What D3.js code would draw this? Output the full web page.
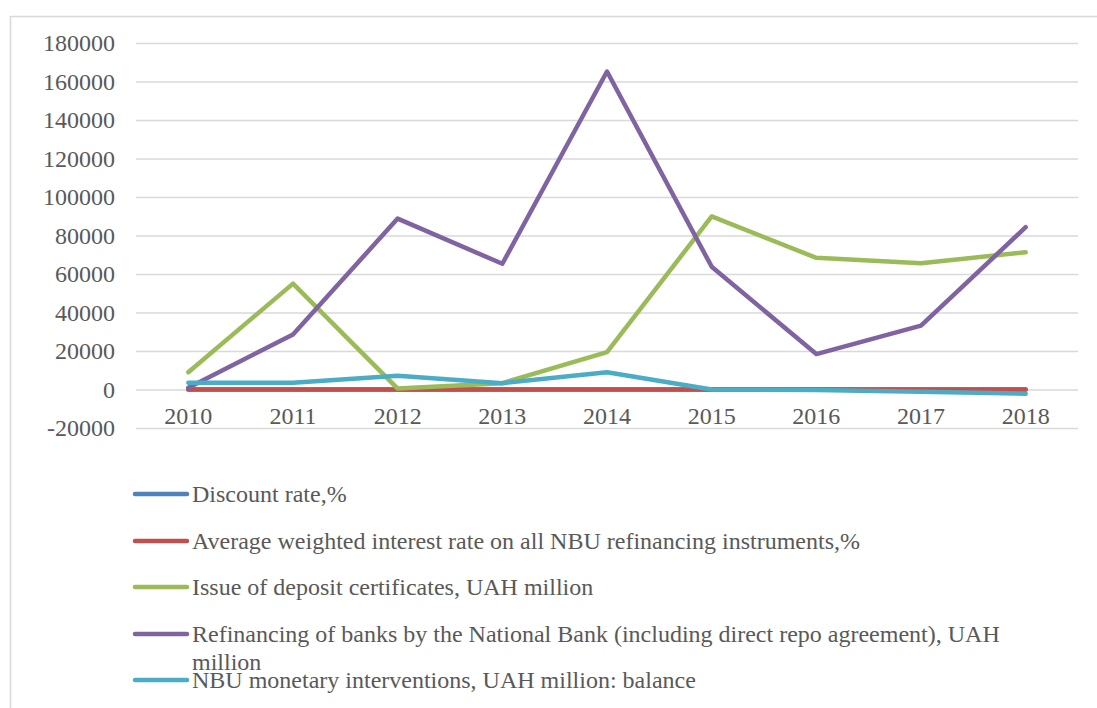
<!DOCTYPE html>
<html>
<head>
<meta charset="utf-8">
<script src="https://cdn.jsdelivr.net/npm/d3@7"></script>
<style>
  body { margin: 0; background: #fff; }
  svg { display: block; }
  text { font-family: "Liberation Serif", "Times New Roman", serif; fill: #595959; }
</style>
</head>
<body>
<div id="chart-area"></div>
<script>
// data
var years = ["2010", "2011", "2012", "2013", "2014", "2015", "2016", "2017", "2018"];
var discountRate = [7.75, 7.75, 7.5, 6.5, 14, 22, 14, 14.5, 18];
var avgWeightedRate = [9.6, 8.1, 8.3, 7.2, 14.9, 27.1, 16.4, 14.4, 18.3];
var depositCertificates = [9000, 55000, 500, 3300, 19400, 89900, 68400, 65600, 71300];
var refinancing = [900, 28600, 88800, 65300, 165200, 63800, 18400, 33200, 84300];
var interventions = [3500, 3500, 7200, 3300, 9000, 0, -300, -1200, -2200];
var yTicks = [-20000, 0, 20000, 40000, 60000, 80000, 100000, 120000, 140000, 160000, 180000];

var seriesNames = [
    "Discount rate,%",
    "Average weighted interest rate on all NBU refinancing instruments,%",
    "Issue of deposit certificates, UAH million",
    "Refinancing of banks by the National Bank (including direct repo agreement), UAH million",
    "NBU monetary interventions, UAH million: balance"
];
var seriesColors = ["#4f81bd", "#c0504d", "#9bbb59", "#8064a2", "#4bacc6"];
var seriesValues = [discountRate, avgWeightedRate, depositCertificates, refinancing, interventions];

var W = 1097, H = 708;
var plot = { left: 136, right: 1078, top: 43, bottom: 428 };
var fontSize = "24px";

var svg = d3.select("#chart-area").append("svg")
    .attr("width", W)
    .attr("height", H);

// outer chart border (top + left visible)
svg.append("path")
    .attr("d", "M10.5," + H + " L10.5,16.5 L" + W + ",16.5")
    .attr("fill", "none")
    .attr("stroke", "#d9d9d9")
    .attr("stroke-width", 1.5);

var xScale = d3.scaleBand()
    .domain(years)
    .range([plot.left, plot.right]);

var yScale = d3.scaleLinear()
    .domain([-20000, 180000])
    .range([plot.bottom, plot.top]);

// gridlines + y labels
var yAxis = svg.append("g")
    .attr("transform", "translate(" + plot.left + ",0)")
    .call(d3.axisLeft(yScale)
        .tickValues(yTicks)
        .tickSize(-(plot.right - plot.left))
        .tickPadding(21)
        .tickFormat(function (d) { return String(d); }));
yAxis.select(".domain").remove();
yAxis.selectAll(".tick line")
    .attr("stroke", "#d9d9d9")
    .attr("stroke-width", 1.5);
yAxis.selectAll(".tick text")
    .style("font-size", fontSize)
    .style("font-family", "'Liberation Serif', serif")
    .attr("fill", "#595959");

// category labels, sitting between 0 and -20000
svg.append("g").selectAll("text")
    .data(years)
    .enter().append("text")
    .attr("x", function (d) { return xScale(d) + xScale.bandwidth() / 2; })
    .attr("y", yScale(-10000) + 15)
    .attr("text-anchor", "middle")
    .style("font-size", fontSize)
    .text(function (d) { return d; });

var line = d3.line()
    .x(function (d, i) { return xScale(years[i]) + xScale.bandwidth() / 2; })
    .y(function (d) { return yScale(d); });

seriesValues.forEach(function (vals, i) {
    svg.append("path")
        .datum(vals)
        .attr("fill", "none")
        .attr("stroke", seriesColors[i])
        .attr("stroke-width", 4.5)
        .attr("stroke-linejoin", "round")
        .attr("stroke-linecap", "round")
        .attr("d", line);
});

// legend
var legendY = [494, 541, 587, 634, 680];
var legend = svg.append("g");
seriesNames.forEach(function (name, i) {
    var g = legend.append("g").attr("transform", "translate(0," + legendY[i] + ")");
    g.append("line")
        .attr("x1", 135).attr("x2", 187)
        .attr("y1", 0).attr("y2", 0)
        .attr("stroke", seriesColors[i])
        .attr("stroke-width", 4.5)
        .attr("stroke-linecap", "round");
    var t = g.append("text")
        .attr("x", 192)
        .attr("y", 8)
        .style("font-size", fontSize);
    if (i === 3) {
        t.append("tspan").attr("x", 192).text("Refinancing of banks by the National Bank (including direct repo agreement), UAH");
        t.append("tspan").attr("x", 192).attr("dy", 28).text("million");
    } else {
        t.text(name);
    }
});
</script>
</body>
</html>
